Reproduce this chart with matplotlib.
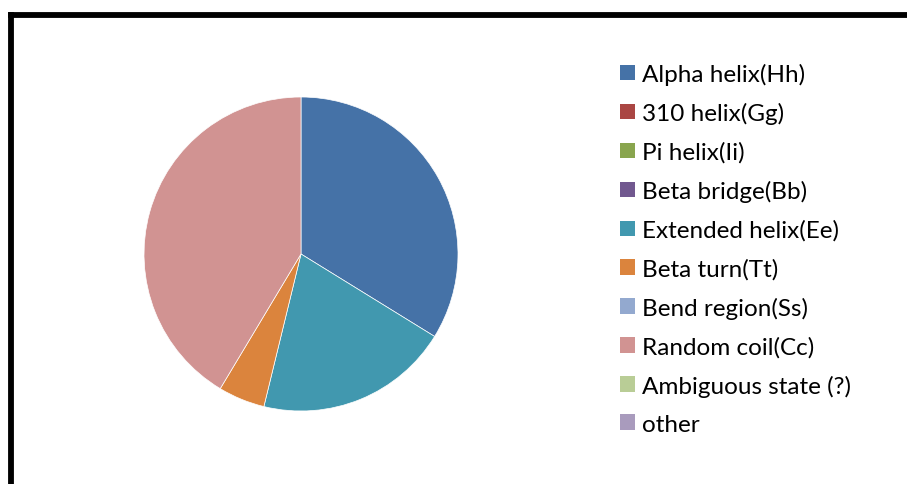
import matplotlib
matplotlib.use("Agg")
import matplotlib.pyplot as plt
from matplotlib.patches import Patch
from matplotlib.lines import Line2D

categories = ["Alpha helix(Hh)", "310 helix(Gg)", "Pi helix(Ii)", "Beta bridge(Bb)",
              "Extended helix(Ee)", "Beta turn(Tt)", "Bend region(Ss)",
              "Random coil(Cc)", "Ambiguous state (?)", "other"]
values = [33.8, 0.0, 0.0, 0.0, 20.0, 4.8, 0.0, 41.4, 0.0, 0.0]
colors = ["#4572A7", "#AA4643", "#89A54E", "#71588F", "#4198AF",
          "#DB843D", "#93A9CF", "#D19392", "#B9CD96", "#A99BBD"]

W, H = 907, 485
fig = plt.figure(figsize=(W / 100, H / 100), dpi=100)
fig.patch.set_facecolor("white")

cx, cy, r = 301, 255, 157
ax = fig.add_axes([(cx - r) / W, (H - cy - r) / H, 2 * r / W, 2 * r / H])
nz = [(v, c) for v, c in zip(values, colors) if v > 0]
ax.pie([v for v, _ in nz], colors=[c for _, c in nz], startangle=90,
       counterclock=False, wedgeprops=dict(edgecolor="white", linewidth=0.5))
ax.set_aspect("equal")
ax.set_xlim(-1, 1)
ax.set_ylim(-1, 1)
ax.axis("off")

handles = [Patch(facecolor=c, edgecolor="none") for c in colors]
leg = fig.legend(handles, categories, loc="upper left",
                 bbox_to_anchor=(620 / W, 1 - 64 / H),
                 frameon=False, prop=dict(family="Lato", size=17.5),
                 handlelength=0.6, handleheight=0.6, handletextpad=0.3,
                 labelspacing=0.705, borderaxespad=0, borderpad=0)

lw = 4.2
fig.add_artist(Line2D([11 / W, 11 / W], [0, 1 - 15.5 / H], color="black",
                      linewidth=lw, solid_capstyle="projecting",
                      transform=fig.transFigure))
fig.add_artist(Line2D([11 / W, 1.01], [1 - 15.5 / H, 1 - 15.5 / H], color="black",
                      linewidth=lw, solid_capstyle="projecting",
                      transform=fig.transFigure))

fig.savefig("out.png", dpi=100, facecolor="white")
